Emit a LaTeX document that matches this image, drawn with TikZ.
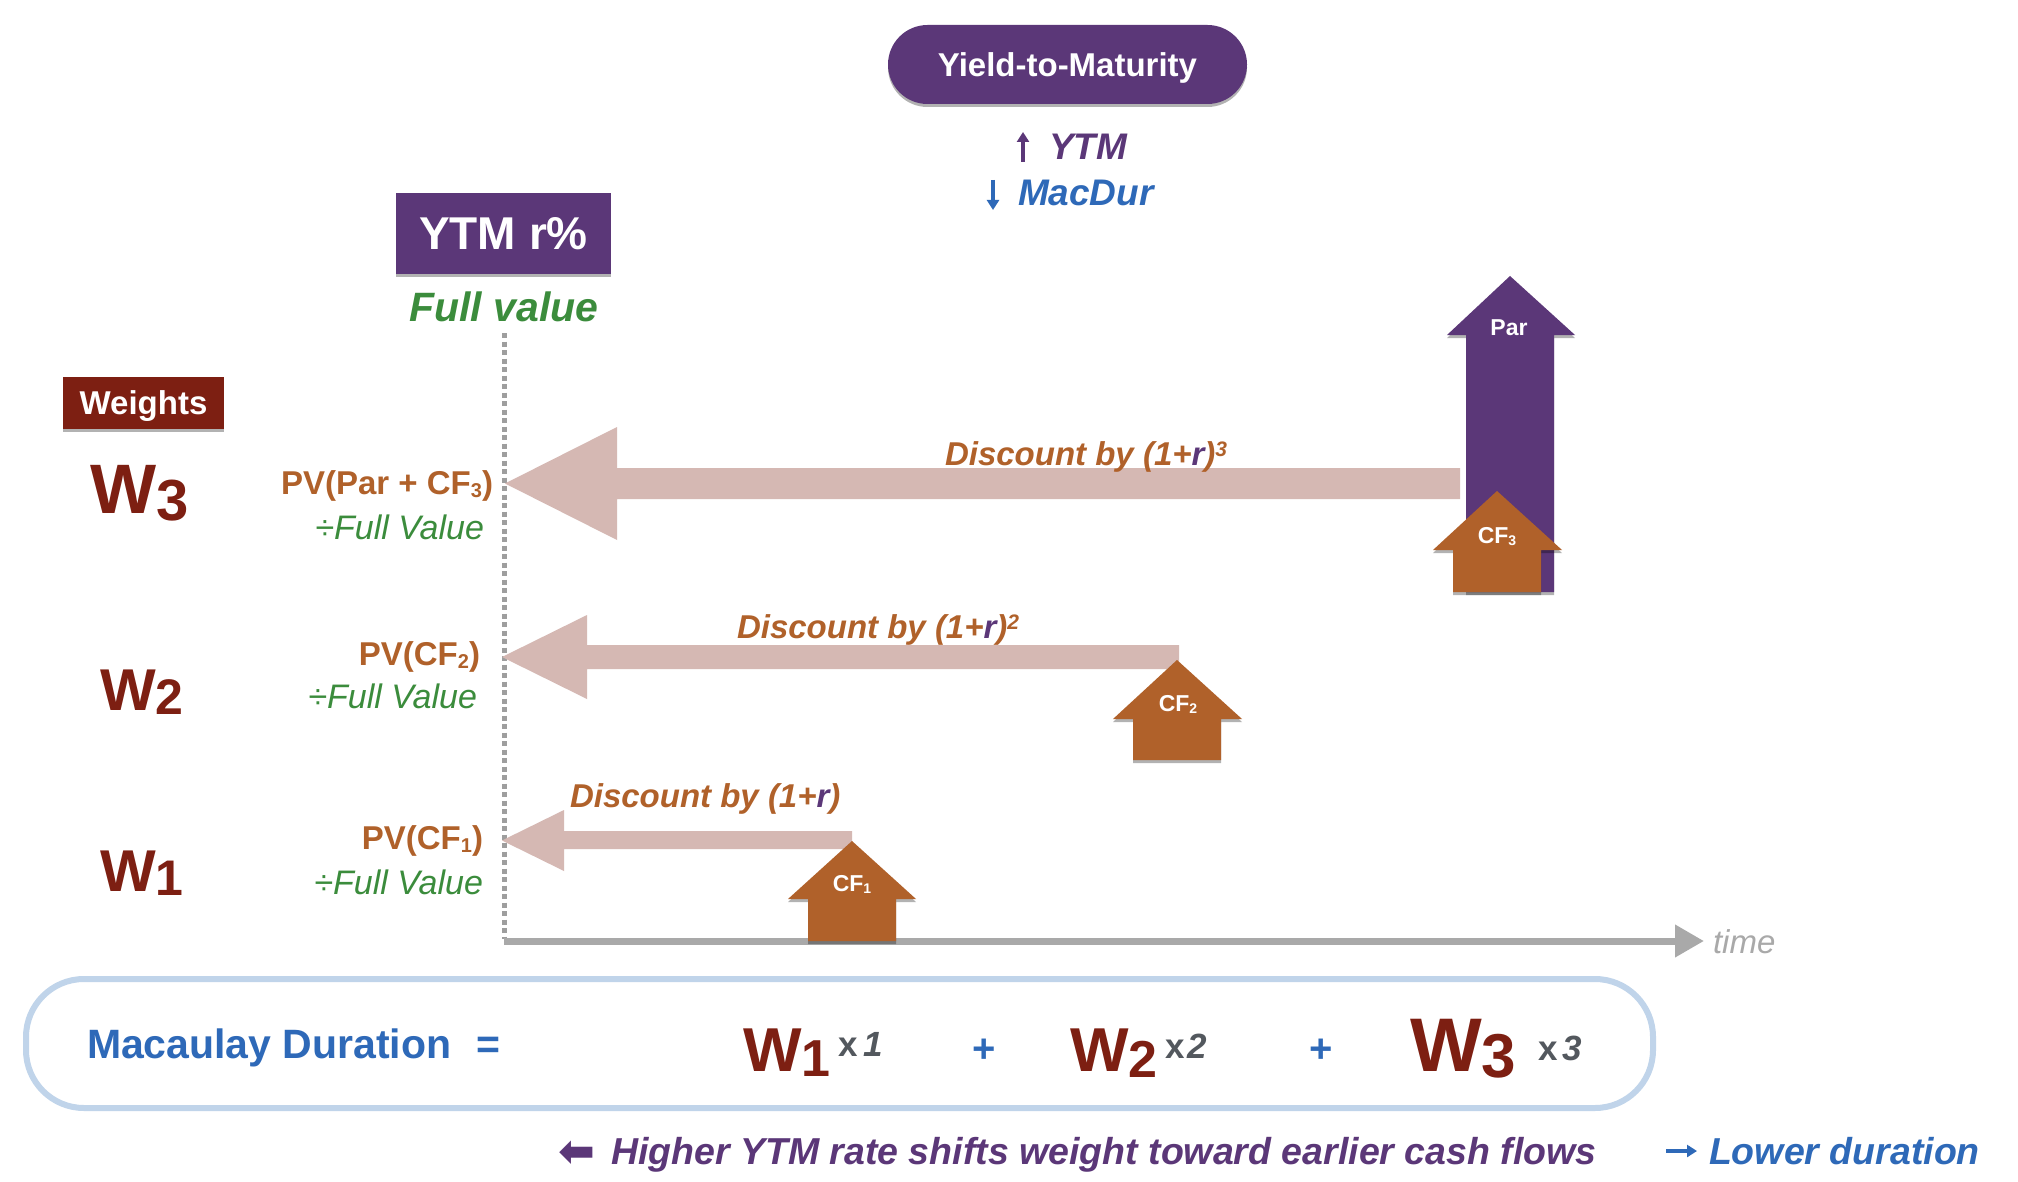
\documentclass[tikz,border=0pt]{standalone}
\usepackage{fontspec}
\setmainfont{Liberation Sans}
\newfontfamily\dejavu{DejaVu Sans}
\usetikzlibrary{shadows,arrows.meta}
\definecolor{ppl}{HTML}{5B3778}
\definecolor{dred}{HTML}{7D1F12}
\definecolor{orng}{HTML}{B0612A}
\definecolor{pnk}{HTML}{D5B8B3}
\definecolor{grn}{HTML}{3B8C3C}
\definecolor{blu}{HTML}{2E69B8}
\definecolor{lblu}{HTML}{C0D4EA}
\definecolor{axgray}{HTML}{A9A9A9}
\definecolor{dotgray}{HTML}{9E9E9E}
\definecolor{txgray}{HTML}{53585E}
\newcommand\fsz[1]{\fontsize{#1}{#1}\selectfont}
\newcommand\lowtxt[3]{\raisebox{-#2pt}{\fsz{#1}#3}}
\newcommand\hightxt[3]{\raisebox{#2pt}{\fsz{#1}#3}}
\tikzset{
  shd/.style={drop shadow={shadow xshift=0pt,shadow yshift=-3pt,opacity=0.3,fill=black}},
  lbl/.style={inner sep=0pt,outer sep=0pt},
  wlbl/.style={lbl,text=dred,font=\bfseries},
  pvlbl/.style={lbl,text=orng,font=\bfseries\fsz{33},anchor=base east},
  fvlbl/.style={lbl,text=grn,font=\itshape\fsz{34},anchor=base east},
  disc/.style={lbl,text=orng,font=\bfseries\itshape\fsz{33},anchor=base west},
  cflbl/.style={lbl,text=white,font=\bfseries\fsz{23},anchor=base},
  xlbl/.style={lbl,text=txgray,font=\bfseries\fsz{35},anchor=base west},
  plus/.style={lbl,text=blu,font=\bfseries\fsz{40},anchor=base},
  thinarrow/.style={line width=3.2pt,-{Triangle[length=10pt,width=12pt]}},
}
\begin{document}
\begin{tikzpicture}[x=1pt,y=-1pt]
\useasboundingbox (0,0) rectangle (2018,1182);
\fill[white] (0,0) rectangle (2018,1182);

% top pill
\node[lbl,fill=ppl,shd,rounded corners=39.5pt,minimum width=359pt,minimum height=79pt,
      text=white,font=\bfseries\fsz{33},text height=23.6pt,text depth=0pt] (pill) at (1067.5,64.5) {Yield-to-Maturity};
\node[lbl,text=ppl,font=\bfseries\itshape\fsz{37},anchor=base west] (ytmt) at (1049,160) {YTM};
\node[lbl,text=blu,font=\bfseries\itshape\fsz{37},anchor=base west] (macd) at (1018,206) {MacDur};
\coordinate (upbot) at (1023,162);
\coordinate (uptop) at (1023,132);
\coordinate (dntop) at (993,180);
\coordinate (dnbot) at (993,210);
\draw[ppl,thinarrow] (upbot) -- (uptop);
\draw[blu,thinarrow] (dntop) -- (dnbot);

% YTM r% box
\node[lbl,fill=ppl,shd,minimum width=215pt,minimum height=81pt,
      text=white,font=\bfseries\fsz{46},text height=33pt,text depth=0pt] (ytmbox) at (503.5,233.5) {YTM r\%};
\node[lbl,text=grn,font=\bfseries\itshape\fsz{41},anchor=base] (fullv) at (504,321) {Full value};

% Weights box
\node[lbl,fill=dred,shd,minimum width=161pt,minimum height=52pt,
      text=white,font=\bfseries\fsz{33},text height=23.6pt,text depth=0pt] (weights) at (143.5,403) {Weights};

% axes
\coordinate (vtop) at (504,333);
\coordinate (vbot) at (504,939);
\coordinate (origin) at (504,941);
\coordinate (tend) at (1704,941);
\draw[dotgray,line width=5pt,dash pattern=on 5pt off 3.5pt] (vtop) -- (vbot);
\draw[axgray,line width=7pt,-{Triangle[length=29pt,width=31pt]}] (origin) -- (tend);
\node[lbl,text=axgray,font=\itshape\fsz{33},anchor=base west] (time) at (1713,953) {time};

% pink discount arrows
\fill[pnk] (505,483.5) -- (617,427) -- (617,468) -- (1460,468) -- (1460,499) -- (617,499) -- (617,540) -- cycle;
\fill[pnk] (502,657) -- (587,615) -- (587,645) -- (1179,645) -- (1179,669) -- (587,669) -- (587,699) -- cycle;
\fill[pnk] (502,840.5) -- (564,810) -- (564,831) -- (852,831) -- (852,849) -- (564,849) -- (564,871) -- cycle;

\node[disc] (d3) at (945,465) {Discount by (1+{\color{ppl}r})\hightxt{21}{9}{3}};
\node[disc] (d2) at (737,638) {Discount by (1+{\color{ppl}r})\hightxt{21}{9}{2}};
\node[disc] (d1) at (570,807) {Discount by (1+{\color{ppl}r})};

% up arrows
\fill[ppl,shd] (1510,276) -- (1575,335) -- (1554,335) -- (1554,592) -- (1466,592) -- (1466,335) -- (1447,335) -- cycle;
\node[cflbl] (par) at (1509,335) {Par};
\fill[orng,shd] (1497,491) -- (1562,550) -- (1541,550) -- (1541,592) -- (1453,592) -- (1453,550) -- (1433,550) -- cycle;
\node[cflbl] (cf3) at (1497,543) {CF\lowtxt{14}{2}{3}};
\fill[orng,shd] (1177,660) -- (1242,719) -- (1221,719) -- (1221,760) -- (1133,760) -- (1133,719) -- (1113,719) -- cycle;
\node[cflbl] (cf2) at (1178,711) {CF\lowtxt{14}{2}{2}};
\fill[orng,shd] (852,841) -- (916,899) -- (896,899) -- (896,941) -- (808,941) -- (808,899) -- (788,899) -- cycle;
\node[cflbl] (cf1) at (852,891) {CF\lowtxt{14}{2}{1}};

% weight labels
\node[wlbl,font=\bfseries\fsz{70},anchor=base west] (w3) at (90,513) {W\lowtxt{58}{7}{3}};
\node[wlbl,font=\bfseries\fsz{59},anchor=base west] (w2) at (100,710) {W\lowtxt{50}{4}{2}};
\node[wlbl,font=\bfseries\fsz{59},anchor=base west] (w1) at (100,891) {W\lowtxt{50}{4}{1}};

\node[pvlbl] (pv3) at (493,494) {PV(Par + CF\lowtxt{20}{3}{3})};
\node[fvlbl] (fv3) at (484,539) {÷Full Value};
\node[pvlbl] (pv2) at (480,665) {PV(CF\lowtxt{20}{3}{2})};
\node[fvlbl] (fv2) at (477,708) {÷Full Value};
\node[pvlbl] (pv1) at (483,849) {PV(CF\lowtxt{20}{3}{1})};
\node[fvlbl] (fv1) at (483,894) {÷Full Value};

% formula box
\draw[lblu,line width=6pt,rounded corners=58pt] (26,979) rectangle (1653,1108);
\node[lbl,text=blu,font=\bfseries\fsz{41},anchor=base west] (macaulay) at (87,1058) {Macaulay Duration\hspace{25pt}=};
\node[wlbl,font=\bfseries\fsz{62},anchor=base west] (fw1) at (743,1071) {W\lowtxt{52}{5}{1}};
\node[xlbl] (fx1) at (838,1056) {x\hspace{6pt}\textit{1}};
\node[plus] (p1) at (984,1062) {+};
\node[wlbl,font=\bfseries\fsz{62},anchor=base west] (fw2) at (1070,1071) {W\lowtxt{52}{6}{2}};
\node[xlbl] (fx2) at (1165,1058) {x\hspace{3pt}\textit{2}};
\node[plus] (p2) at (1321,1062) {+};
\node[wlbl,font=\bfseries\fsz{76},anchor=base west] (fw3) at (1410,1071) {W\lowtxt{62}{6}{3}};
\node[xlbl] (fx3) at (1538,1060) {x\hspace{5pt}\textit{3}};

% bottom note
\node[lbl,text=ppl,font=\dejavu\bfseries\fsz{44},anchor=base west] (larr) at (558,1166) {⬅};
\node[lbl,text=ppl,font=\bfseries\itshape\fsz{37.5},anchor=base west] (higher) at (611,1164) {Higher YTM rate shifts weight toward earlier cash flows};
\coordinate (rarrl) at (1666,1151);
\coordinate (rarrr) at (1697,1151);
\draw[blu,thinarrow] (rarrl) -- (rarrr);
\node[lbl,text=blu,font=\bfseries\itshape\fsz{37.5},anchor=base west] (lower) at (1709,1164) {Lower duration};
\end{tikzpicture}
\end{document}
